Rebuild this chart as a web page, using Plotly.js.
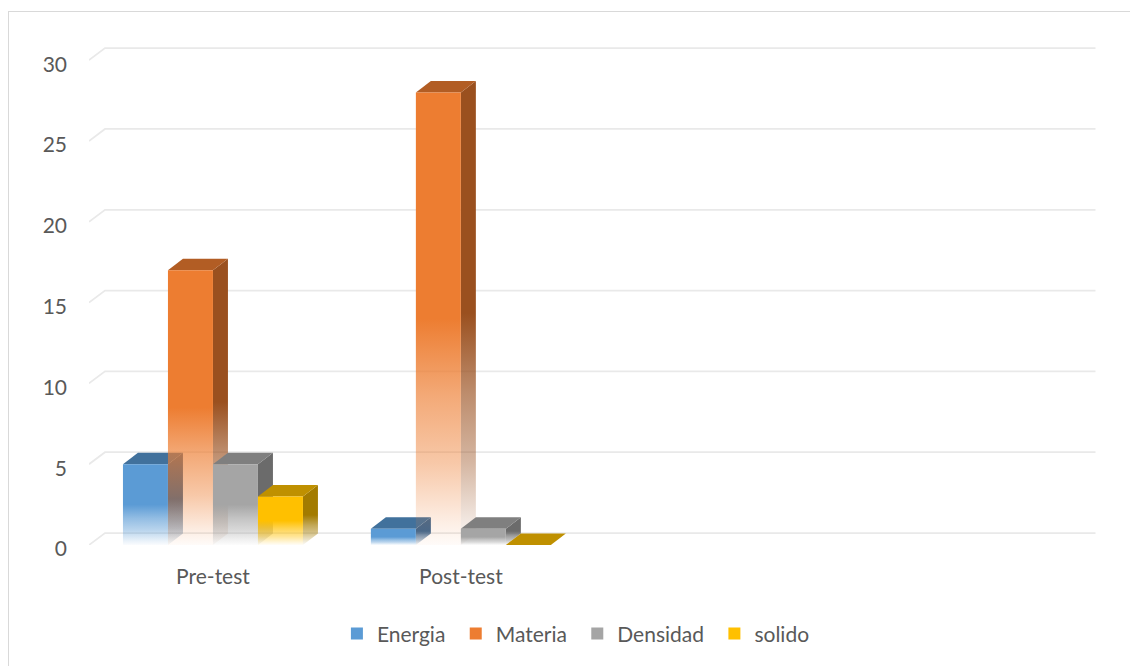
<!DOCTYPE html>
<html>
<head>
<meta charset="utf-8">
<script src="https://cdn.plot.ly/plotly-3.0.1.min.js"></script>
<style>
  html, body { margin: 0; padding: 0; background: #ffffff; }
  #wrap { position: relative; width: 1130px; height: 666px; overflow: hidden; }
  #chart { position: absolute; left: 0; top: 0; width: 1130px; height: 666px; }
  #frame { position: absolute; left: 8px; top: 11px; width: 1200px; height: 700px;
           border-left: 1.5px solid #d9d9d9; border-top: 1.5px solid #d9d9d9;
           pointer-events: none; z-index: 5; }
</style>
</head>
<body>
<div id="wrap">
  <div id="chart"></div>
  <div id="frame"></div>
</div>
<script>
// ---------------- data ----------------
const categories = ['Pre-test', 'Post-test'];
const seriesNames = ['Energia', 'Materia', 'Densidad', 'solido'];
const energia  = [5, 1];
const materia  = [17, 28];
const densidad = [5, 1];
const solido   = [3, 0];
const yTicks = [0, 5, 10, 15, 20, 25, 30];

// ---------------- style ----------------
const seriesValues = [energia, materia, densidad, solido];
const FRONT = [[91,155,213], [237,125,49], [165,165,165], [255,192,0]];
const TOP   = ['#41719C', '#B25D24', '#7F7F7F', '#BF9000'];
const SIDE  = [[59,102,144], [154,80,31], [107,107,107], [163,123,0]];
const FONT = 'Lato, "Open Sans", sans-serif';
const TXT = '#595959';
const FS = 21;

const W = 1130, H = 666;
const ML = 89, MB = 121;
const XR = [-0.5, 3.57];
const YR = [0, 31];
const pxX = 248;           // px per category
const pxY = 16.17;         // px per value unit
const plotW = (XR[1] - XR[0]) * pxX;
const plotH = (YR[1] - YR[0]) * pxY;
const MR = W - ML - plotW;
const MT = H - MB - plotH;

const BAR_DX = 15 / pxX, BAR_DY = 11.5 / pxY;
const GRID_DX = 16 / pxX, GRID_DY = 12 / pxY;
const BARGAP = 0.274;
const nS = seriesValues.length;
const barW = (1 - BARGAP) / nS;

function rgba(c, a) { return 'rgba(' + c[0] + ',' + c[1] + ',' + c[2] + ',' + a + ')'; }
function fadeScale(c) {
  return [[0, rgba(c, 0.03)], [0.05, rgba(c, 0.13)], [0.18, rgba(c, 0.42)],
          [0.33, rgba(c, 0.66)], [0.5, rgba(c, 1)], [1, rgba(c, 1)]];
}
function face(xs, ys, extra) {
  return Object.assign({
    type: 'scatter', mode: 'lines', x: xs, y: ys, fill: 'toself',
    line: { width: 0 }, hoverinfo: 'skip', showlegend: false
  }, extra);
}

// ---------------- traces ----------------
const traces = [];
categories.forEach(function (cat, c) {
  seriesValues.forEach(function (vals, s) {
    const v = vals[c];
    const l = c - (1 - BARGAP) / 2 + s * barW;
    const r = l + barW;
    if (v > 0) {
      // side face
      traces.push(face([r, r + BAR_DX, r + BAR_DX, r, r], [0, BAR_DY, v + BAR_DY, v, 0], {
        fillcolor: rgba(SIDE[s], 1),
        fillgradient: { type: 'vertical', start: 0, stop: v + BAR_DY, colorscale: fadeScale(SIDE[s]) }
      }));
    }
    // top face
    traces.push(face([l, r, r + BAR_DX, l + BAR_DX, l], [v, v, v + BAR_DY, v + BAR_DY, v], {
      fillcolor: TOP[s]
    }));
    if (v > 0) {
      // front face
      traces.push(face([l, r, r, l, l], [0, 0, v, v, 0], {
        fillcolor: rgba(FRONT[s], 1),
        fillgradient: { type: 'vertical', start: 0, stop: v, colorscale: fadeScale(FRONT[s]) },
        name: seriesNames[s] + ' ' + cat
      }));
    }
  });
});
// legend entries (a trailing no-break space widens the gap between entries)
seriesNames.forEach(function (n, s) {
  traces.push({ type: 'bar', x: [null], y: [null], name: n + '\u00a0',
                marker: { color: rgba(FRONT[s], 1) }, hoverinfo: 'skip' });
});

// ---------------- gridlines (back wall) ----------------
const shapes = yTicks.map(function (t) {
  return {
    type: 'path', xref: 'x', yref: 'y', layer: 'below',
    path: 'M' + XR[0] + ',' + t + ' L' + (XR[0] + GRID_DX) + ',' + (t + GRID_DY) +
          ' L' + (XR[1] - 2.5 / pxX) + ',' + (t + GRID_DY),
    line: { color: '#e9e9e9', width: 1.75 }
  };
});

const layout = {
  width: W, height: H,
  margin: { l: ML, r: MR, t: MT, b: MB, pad: 0 },
  paper_bgcolor: '#ffffff', plot_bgcolor: 'rgba(0,0,0,0)',
  font: { family: FONT, size: FS, color: TXT },
  barmode: 'group', bargap: BARGAP,
  showlegend: true,
  xaxis: {
    range: XR, tickmode: 'array', tickvals: categories.map(function (c, i) { return i; }),
    ticktext: categories, showgrid: false, zeroline: false, showline: false,
    ticks: '', ticklabelstandoff: 17, fixedrange: true,
    tickfont: { family: FONT, size: FS, color: TXT }
  },
  yaxis: {
    range: YR, tickmode: 'array', tickvals: yTicks, ticktext: yTicks.map(String),
    showgrid: false, zeroline: false, showline: false,
    ticks: '', ticklabelstandoff: 21, ticklabelshift: 4, fixedrange: true,
    tickfont: { family: FONT, size: FS, color: TXT }
  },
  legend: {
    orientation: 'h', x: (337 - ML) / plotW, y: (H - MB - 634) / plotH,
    xanchor: 'left', yanchor: 'middle', bgcolor: 'rgba(0,0,0,0)',
    font: { family: FONT, size: FS, color: TXT }, traceorder: 'normal'
  },
  shapes: shapes
};

Plotly.newPlot('chart', traces, layout, { displayModeBar: false, staticPlot: true });
</script>
</body>
</html>
